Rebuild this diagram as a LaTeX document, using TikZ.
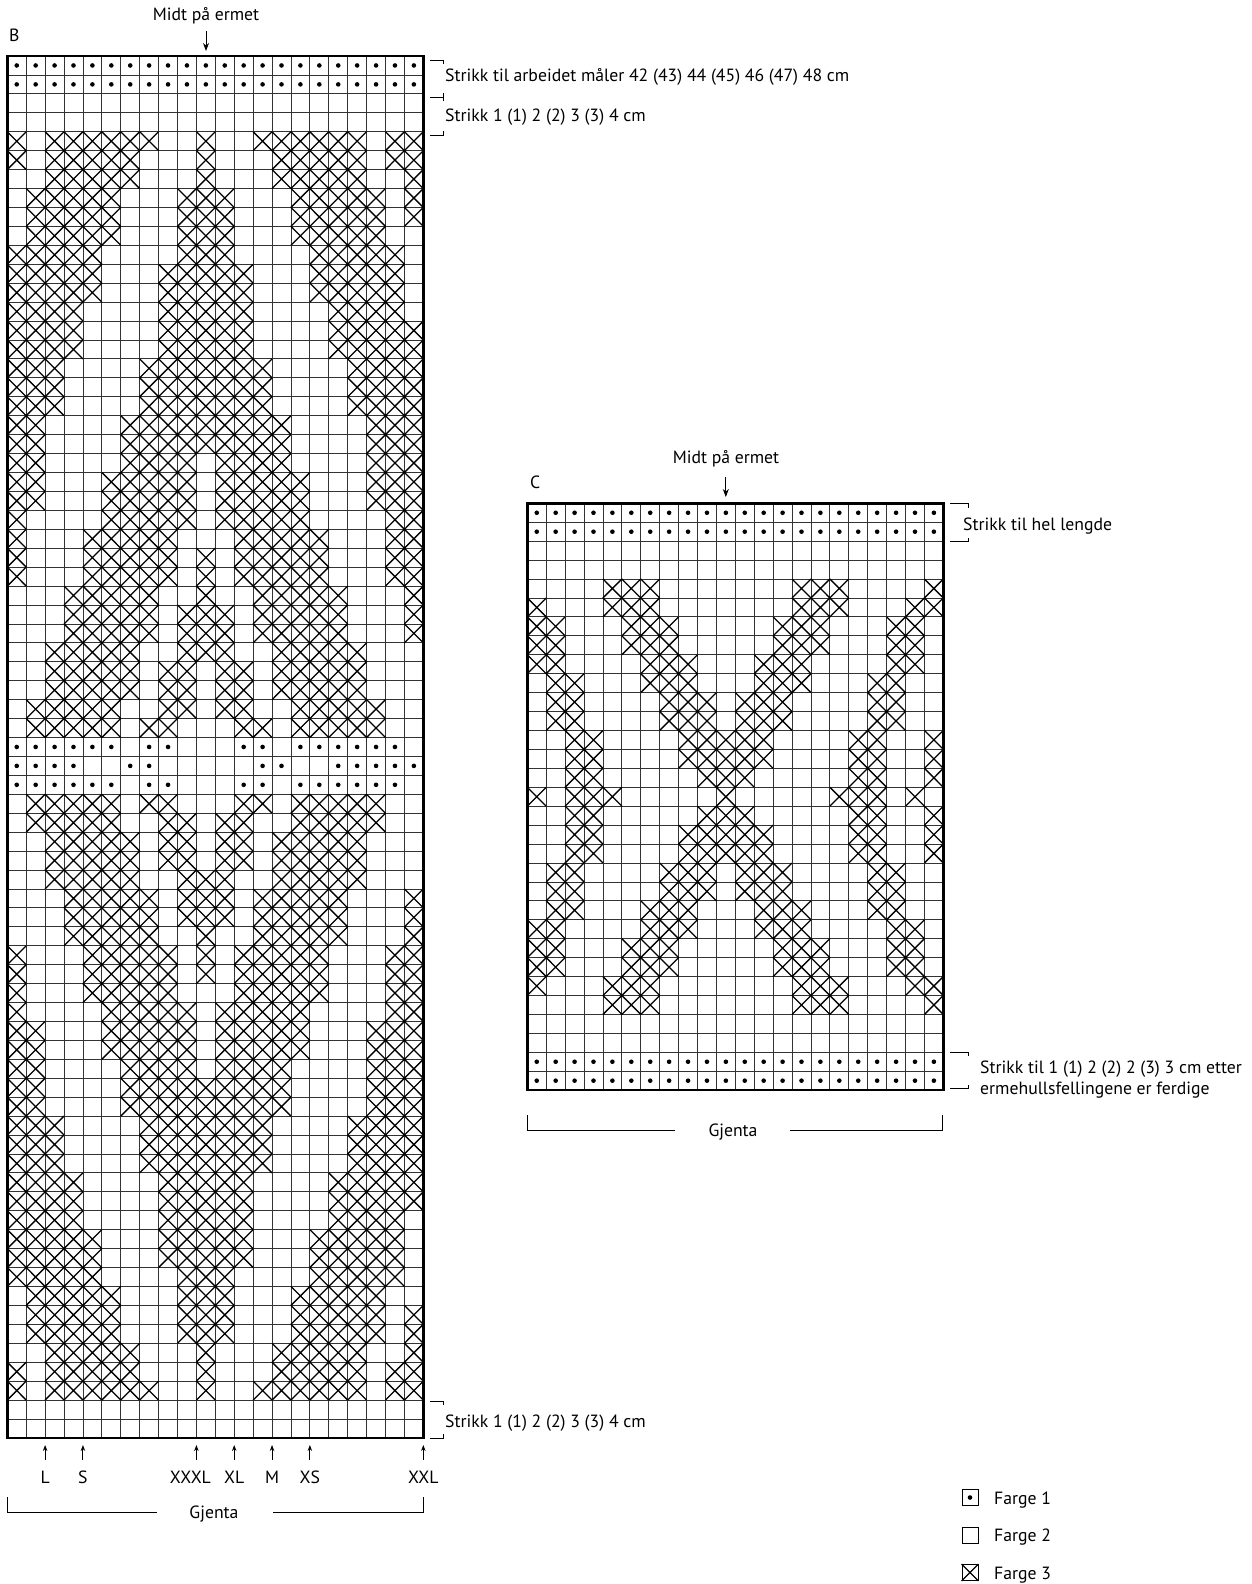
\documentclass[tikz,border=0pt]{standalone}
\usepackage{fontspec}
\setmainfont{PT Sans}
\usetikzlibrary{arrows.meta}
\begin{document}
\begin{tikzpicture}[x=1pt,y=-1pt,
  gridline/.style={line width=0.8pt,black!80},
  border/.style={line width=2.6pt,line cap=rect},
  xmark/.style={line width=1.3pt},
  lbl/.style={font=\fontsize{17.7}{21}\selectfont,inner sep=0pt},
  brk/.style={line width=0.9pt},
  arr/.style={-{Stealth[length=6pt,width=4.5pt]},line width=0.9pt},
  bigarr/.style={-{Stealth[length=8pt,width=6pt]},line width=1pt}]
\useasboundingbox[fill=white] (0,0) rectangle (1252,1584);

% ---------------- Chart B ----------------
\begin{scope}[shift={(7.3,56)},x=18.91pt,y=-18.93pt]
  \foreach \i in {0,...,22} \draw[gridline] (\i,0) -- (\i,73);
  \foreach \j in {1,...,72} \draw[gridline] (0,\j) -- (22,\j);
  \foreach \r/\rng in {
    4/{0/0,2/7,10/10,13/18,20/21},
    5/{0/0,2/6,10/10,14/18,20/21},
    6/{2/6,10/10,14/18,21/21},
    7/{1/5,9/11,15/19,21/21},
    8/{1/5,9/11,15/19,21/21},
    9/{1/5,9/11,15/19},
    10/{0/4,9/11,16/20},
    11/{0/4,8/12,16/20},
    12/{0/4,8/12,16/20},
    13/{0/3,8/12,17/20},
    14/{0/3,8/12,17/21},
    15/{0/3,8/12,17/21},
    16/{0/2,7/13,18/21},
    17/{0/2,7/13,18/21},
    18/{0/2,7/13,18/21},
    19/{0/1,6/14,19/21},
    20/{0/1,6/14,19/21},
    21/{0/1,6/9,11/14,19/21},
    22/{0/1,5/9,11/15,19/21},
    23/{0/1,5/9,11/15,19/21},
    24/{0/0,5/9,11/15,20/21},
    25/{0/0,4/8,12/16,20/21},
    26/{0/0,4/8,10/10,12/16,20/21},
    27/{0/0,4/8,10/10,12/16,20/21},
    28/{3/7,10/10,13/17,21/21},
    29/{3/7,9/11,13/17,21/21},
    30/{3/7,9/11,13/17,21/21},
    31/{2/6,9/11,14/18},
    32/{2/6,8/9,11/12,14/18},
    33/{2/6,8/9,11/12,14/18},
    34/{1/5,8/9,11/12,15/19},
    35/{1/5,7/8,12/13,15/19}} {
    \pgfmathtruncatemacro\rr{74-\r}
    \foreach \a/\b in \rng {
      \foreach \c in {\a,...,\b} {
        \draw[xmark] (\c,\r) -- ++(1,1) (\c+1,\r) -- ++(-1,1);
        \draw[xmark] (\c,\rr) -- ++(1,1) (\c+1,\rr) -- ++(-1,1);
      }
    }
  }
  \foreach \r/\rng in {0/{0/21},1/{0/21},
    36/{0/5,7/8,12/13,15/20},
    38/{0/5,7/8,12/13,15/20},
    37/{0/3,6/7,13/14,17/21}} {
    \foreach \a/\b in \rng {
      \foreach \c in {\a,...,\b} {
        \fill (\c+0.5,\r+0.5) circle (2.3pt);
      }
    }
  }
  \draw[border] (0,0) rectangle (22,73);
\end{scope}

% ---------------- Chart C ----------------
\begin{scope}[shift={(527.3,503.3)},x=18.91pt,y=-18.93pt]
  \foreach \i in {0,...,22} \draw[gridline] (\i,0) -- (\i,31);
  \foreach \j in {1,...,30} \draw[gridline] (0,\j) -- (22,\j);
  \foreach \r/\rng in {
    4/{4/6,14/16,21/21},
    5/{0/0,4/6,14/16,20/21},
    6/{0/1,5/7,13/15,19/20},
    7/{0/1,5/7,13/15,19/20},
    8/{0/1,6/8,12/14,19/20},
    9/{1/2,6/8,12/14,18/19},
    10/{1/2,7/9,11/13,18/19},
    11/{1/2,7/9,11/13,18/19},
    12/{2/3,8/12,17/18,21/21},
    13/{2/3,8/12,17/18,21/21},
    14/{2/3,9/11,17/18,21/21}} {
    \pgfmathtruncatemacro\rr{30-\r}
    \foreach \a/\b in \rng {
      \foreach \c in {\a,...,\b} {
        \draw[xmark] (\c,\r) -- ++(1,1) (\c+1,\r) -- ++(-1,1);
        \draw[xmark] (\c,\rr) -- ++(1,1) (\c+1,\rr) -- ++(-1,1);
      }
    }
  }
  \foreach \c in {0,2,3,4,10,16,17,18,20}
    \draw[xmark] (\c,15) -- ++(1,1) (\c+1,15) -- ++(-1,1);
  \foreach \r in {0,1,29,30}
    \foreach \c in {0,...,21}
      \fill (\c+0.5,\r+0.5) circle (2.3pt);
  \draw[border] (0,0) rectangle (22,31);
\end{scope}

% ---------------- Labels chart B ----------------
\node[lbl,anchor=base] (midtB) at (206,21) {Midt på ermet};
\node[lbl,anchor=base west] (labB) at (9,42) {B};
\coordinate (aBt) at (206,31);
\coordinate (aBb) at (206,51);
\draw[bigarr] (aBt) -- (aBb);

\draw[brk] (430,60) -- (443,60) -- (443,64);
\draw[brk] (430,97) -- (443,97) (443,93) -- (443,101);
\draw[brk] (430,135) -- (443,135) -- (443,131);
\node[lbl,anchor=base west] (tB1) at (445,82) {Strikk til arbeidet måler 42 (43) 44 (45) 46 (47) 48 cm};
\node[lbl,anchor=base west] (tB2) at (445,122) {Strikk 1 (1) 2 (2) 3 (3) 4 cm};

\draw[brk] (430,1401) -- (443,1401) -- (443,1405);
\draw[brk] (430,1438) -- (443,1438) -- (443,1434);
\node[lbl,anchor=base west] (tB3) at (445,1427) {Strikk 1 (1) 2 (2) 3 (3) 4 cm};

\foreach \k/\t/\nm/\dx in {2/L/sL/0,4/S/sS/0,10/XXXL/sXXXL/-6,12/XL/sXL/0,14/M/sM/0,16/XS/sXS/0,22/XXL/sXXL/0} {
  \pgfmathsetmacro\xx{7.3+18.91*\k}
  \coordinate (\nm a) at (\xx,1460);
  \coordinate (\nm b) at (\xx,1445);
  \draw[arr] (\nm a) -- (\nm b);
  \node[lbl,anchor=base] (\nm) at (\xx+\dx,1483) {\t};
}

\node[lbl,anchor=base] (gjB) at (214,1518) {Gjenta};
\draw[brk] (7.8,1497) -- (7.8,1512) -- (157,1512);
\draw[brk] (273,1512) -- (423.3,1512) -- (423.3,1497);

% ---------------- Labels chart C ----------------
\node[lbl,anchor=base] (midtC) at (726,463) {Midt på ermet};
\node[lbl,anchor=base west] (labC) at (530,488) {C};
\coordinate (aCt) at (725.8,477);
\coordinate (aCb) at (725.8,497);
\draw[bigarr] (aCt) -- (aCb);

\draw[brk] (950,503.5) -- (968,503.5) -- (968,507.5);
\draw[brk] (950,541.5) -- (968,541.5) -- (968,537.5);
\node[lbl,anchor=base west] (tC1) at (963,530) {Strikk til hel lengde};

\draw[brk] (950,1052.3) -- (968,1052.3) -- (968,1056.3);
\draw[brk] (950,1088.5) -- (968,1088.5) -- (968,1084.5);
\node[lbl,anchor=base west] (tC2) at (980,1073) {Strikk til 1 (1) 2 (2) 2 (3) 3 cm etter};
\node[lbl,anchor=base west] (tC3) at (980,1094) {ermehullsfellingene er ferdige};

\node[lbl,anchor=base] (gjC) at (733,1136) {Gjenta};
\draw[brk] (527.8,1115) -- (527.8,1130) -- (675,1130);
\draw[brk] (790,1130) -- (942.8,1130) -- (942.8,1115);

% ---------------- Legend ----------------
\node[draw,line width=0.9pt,minimum size=16pt,inner sep=0pt] (k1) at (970,1497.5) {};
\fill (k1.center) circle (2.3pt);
\node[lbl,anchor=base west] (f1) at (994,1504) {Farge 1};
\node[draw,line width=0.9pt,minimum size=16pt,inner sep=0pt] (k2) at (970,1535) {};
\node[lbl,anchor=base west] (f2) at (994,1541.5) {Farge 2};
\node[draw,line width=0.9pt,minimum size=16pt,inner sep=0pt] (k3) at (970,1572.5) {};
\draw[xmark] (k3.north west) -- (k3.south east) (k3.north east) -- (k3.south west);
\node[lbl,anchor=base west] (f3) at (994,1579) {Farge 3};
\end{tikzpicture}
\end{document}
